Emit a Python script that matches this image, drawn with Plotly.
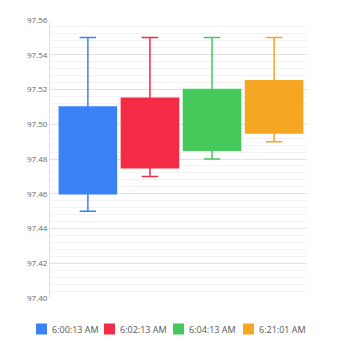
import plotly.graph_objects as go

# Data
times = ["6:00:13 AM", "6:02:13 AM", "6:04:13 AM", "6:21:01 AM"]
high = [97.55, 97.55, 97.55, 97.55]
box_top = [97.51, 97.515, 97.52, 97.525]
box_bottom = [97.46, 97.475, 97.485, 97.495]
low = [97.45, 97.47, 97.48, 97.49]
colors = ["#3b82f7", "#f42b44", "#44c95a", "#f5a623"]

W, H = 350, 350
ML, MR, MT, MB = 50, 43, 20, 52
PW, PH = W - ML - MR, H - MT - MB

fig = go.Figure()
for i, t in enumerate(times):
    fig.add_trace(go.Box(
        x=[t],
        q1=[box_bottom[i]], q3=[box_top[i]],
        median=[(box_bottom[i] + box_top[i]) / 2],
        lowerfence=[low[i]], upperfence=[high[i]],
        fillcolor=colors[i],
        line=dict(color=colors[i], width=1.5),
        whiskerwidth=0.29,
        width=0.92,
        name=t,
        showlegend=False,
        hoverinfo="skip",
    ))

# Custom legend
font_family = "Open Sans, Noto Sans, sans-serif"
legend_x = [36, 104, 173, 243]
sq = 11
ly = 329
shapes = []
annotations = []
for i, t in enumerate(times):
    x0 = legend_x[i]
    shapes.append(dict(
        type="rect", xref="paper", yref="paper",
        x0=(x0 - ML) / PW, x1=(x0 + sq - ML) / PW,
        y0=(MT + PH - (ly + sq / 2)) / PH,
        y1=(MT + PH - (ly - sq / 2)) / PH,
        fillcolor=colors[i], line=dict(width=0),
    ))
    annotations.append(dict(
        text=t, xref="paper", yref="paper",
        x=(x0 + sq + 3 - ML) / PW, y=(MT + PH - ly) / PH,
        xanchor="left", yanchor="middle", showarrow=False,
        font=dict(size=9, color="#555555", family=font_family),
    ))

fig.update_layout(
    width=W, height=H,
    margin=dict(l=ML, r=MR, t=MT, b=MB),
    paper_bgcolor="white", plot_bgcolor="white",
    boxmode="overlay",
    showlegend=False,
    shapes=shapes,
    annotations=annotations,
    font=dict(family=font_family),
    xaxis=dict(
        type="category", categoryorder="array", categoryarray=times,
        range=[-0.61, 3.53], showticklabels=False, showgrid=False,
        zeroline=False, showline=False, ticks="",
    ),
    yaxis=dict(
        range=[97.40, 97.56], dtick=0.02, tick0=97.40, tickformat=".2f",
        showgrid=True, gridcolor="#e2e2e2", gridwidth=1,
        minor=dict(dtick=0.004, showgrid=True, gridcolor="#f3f3f3", gridwidth=1),
        showline=True, linecolor="#e2e2e2", linewidth=1,
        zeroline=False, ticks="",
        tickfont=dict(size=8, color="#666666", family=font_family),
    ),
)

fig.write_html("out.html")
